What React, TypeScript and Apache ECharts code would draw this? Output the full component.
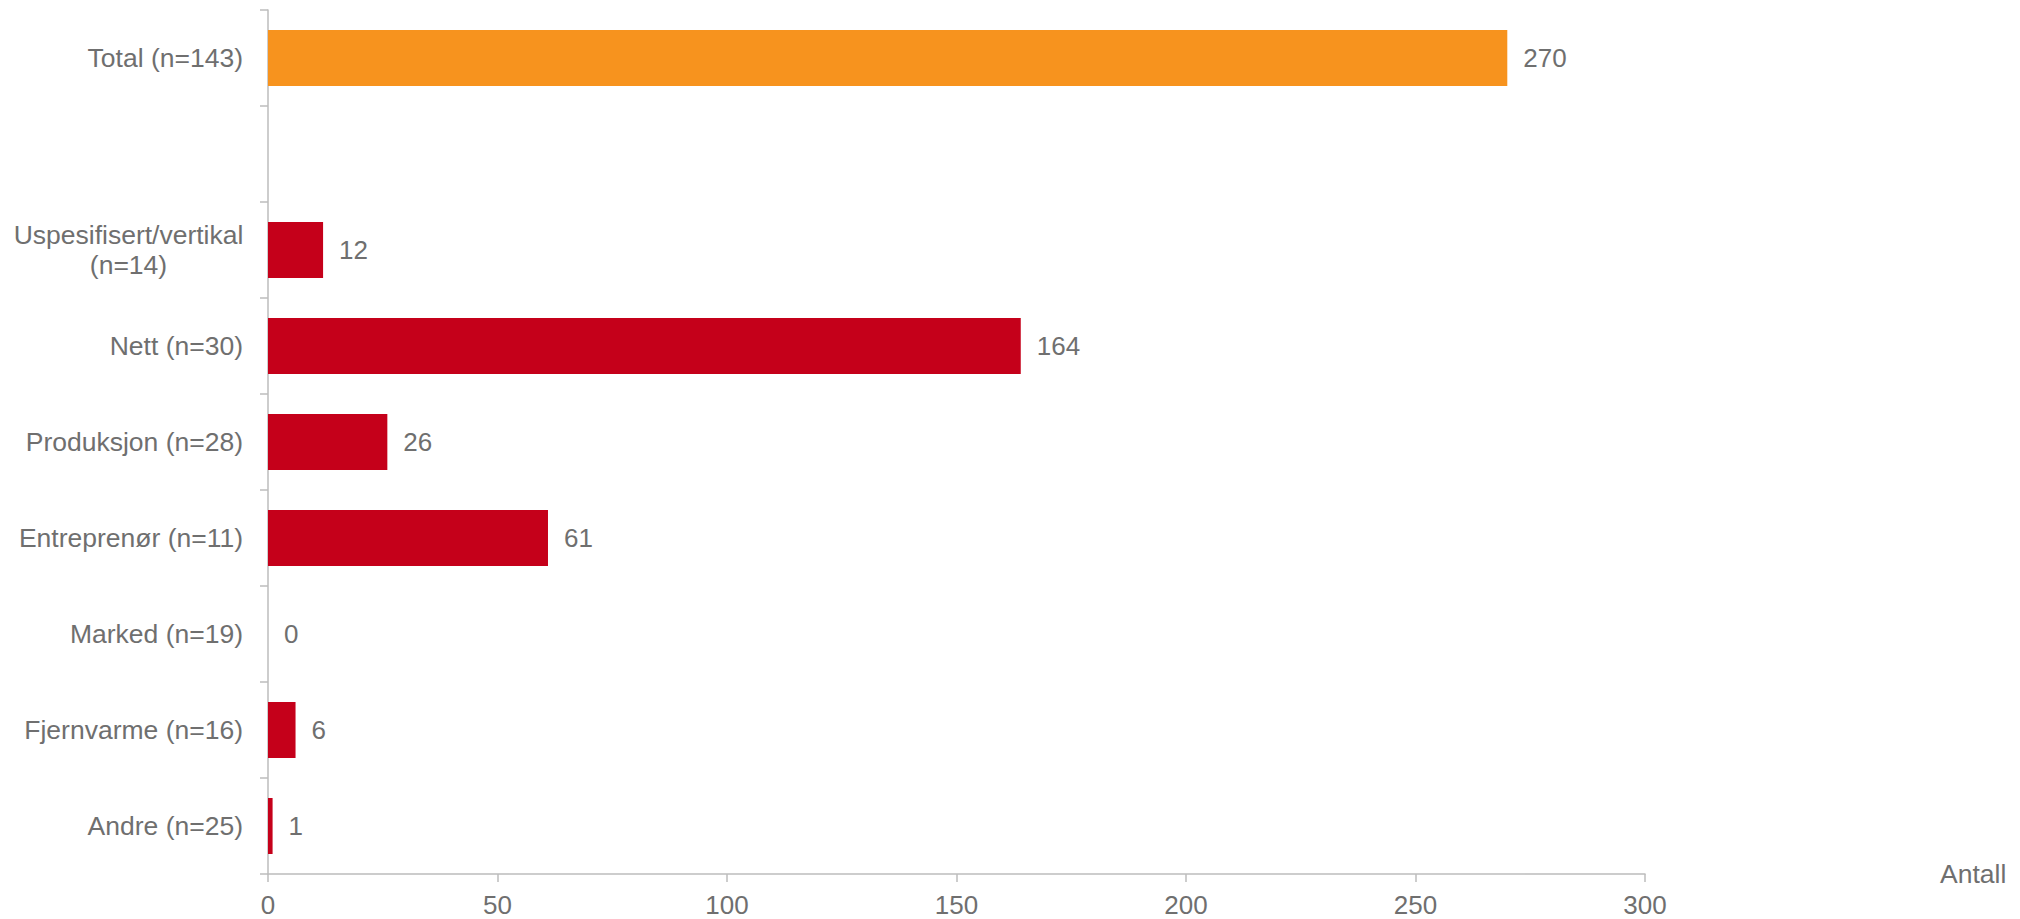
import React, { useEffect, useRef } from "react";
import * as echarts from "echarts";

const categories: string[] = [
  "Total (n=143)",
  "",
  "Uspesifisert/vertikal\n(n=14)",
  "Nett (n=30)",
  "Produksjon (n=28)",
  "Entreprenør (n=11)",
  "Marked (n=19)",
  "Fjernvarme (n=16)",
  "Andre (n=25)",
];
const values: (number | null)[] = [270, null, 12, 164, 26, 61, 0, 6, 1];
const barColors: string[] = ["#F7931E", "#C5001A", "#C5001A", "#C5001A", "#C5001A", "#C5001A", "#C5001A", "#C5001A", "#C5001A"];
const xTicks: number[] = [0, 50, 100, 150, 200, 250, 300];
const xAxisName = "Antall";

const FONT = "'Liberation Sans', Arial, sans-serif";
const TEXT = "#6f6f6f";
const AXIS = "#bcbcbc";

export default function App() {
  const ref = useRef<HTMLDivElement>(null);
  useEffect(() => {
    if (!ref.current) return;
    const chart = echarts.init(ref.current, undefined, { renderer: "svg" });
    chart.setOption({
      animation: false,
      textStyle: { fontFamily: FONT },
      grid: { left: 268, top: 10, right: 375, bottom: 45, containLabel: false },
      xAxis: {
        type: "value",
        min: xTicks[0],
        max: xTicks[xTicks.length - 1],
        interval: xTicks[1] - xTicks[0],
        splitLine: { show: false },
        axisLine: { show: true, lineStyle: { color: AXIS, width: 1.5 } },
        axisTick: { show: true, length: 8, lineStyle: { color: AXIS, width: 1.5 } },
        axisLabel: { color: TEXT, fontSize: 26, fontFamily: FONT, margin: 18 },
        name: xAxisName,
        nameLocation: "end",
        nameGap: 295,
        nameTextStyle: { color: TEXT, fontSize: 26.5, fontFamily: FONT, verticalAlign: "bottom", padding: [0, 0, -13, 0] },
      },
      yAxis: {
        type: "category",
        inverse: true,
        data: categories,
        axisLine: { show: true, lineStyle: { color: AXIS, width: 1.5 } },
        axisTick: { show: true, length: 8, lineStyle: { color: AXIS, width: 1.5 } },
        axisLabel: {
          color: TEXT,
          fontSize: 26.5,
          fontFamily: FONT,
          margin: 25,
          lineHeight: 30,
          align: "right",
          formatter: (v: string) =>
            v.indexOf("\n") >= 0
              ? v.split("\n").map((s) => `{c|${s}}`).join("\n")
              : v,
          rich: {
            c: { color: TEXT, fontSize: 26.5, fontFamily: FONT, lineHeight: 30, width: 229, align: "center" },
          },
        },
      },
      series: [
        {
          type: "bar",
          barWidth: 56,
          data: values.map((v, i) => ({ value: v, itemStyle: { color: barColors[i] } })),
          label: {
            show: true,
            position: "right",
            distance: 16,
            color: TEXT,
            fontSize: 26,
            fontFamily: FONT,
            formatter: (p: any) => (p.value === null || p.value === undefined ? "" : String(p.value)),
          },
        },
      ],
    });
    return () => chart.dispose();
  }, []);
  return <div ref={ref} style={{ width: 2020, height: 919, position: "absolute", left: 0, top: 0 }} />;
}
